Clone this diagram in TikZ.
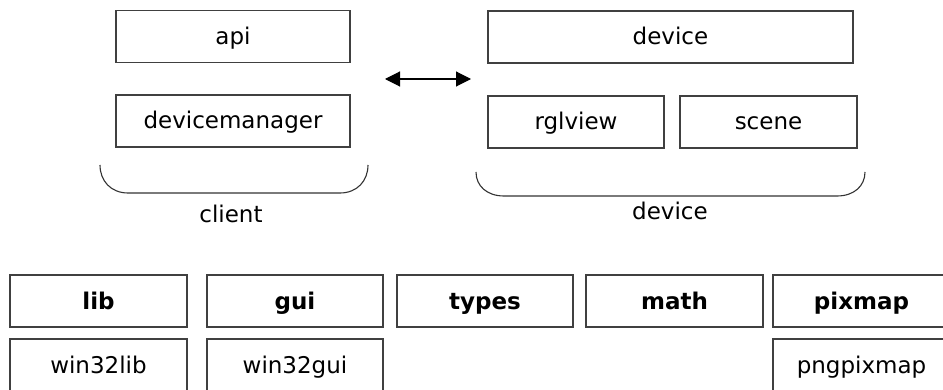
\documentclass[tikz,border=0pt]{standalone}
\usepackage{fontspec}
\setmainfont{DejaVu Sans}
\usetikzlibrary{arrows.meta}
\tikzset{
  box/.style={draw=black!75, line width=1.1pt, rectangle, minimum height=52pt,
    inner sep=0pt, text height=18pt, text depth=2pt,
    font=\fontsize{23}{27}\selectfont},
  bbox/.style={box, font=\fontsize{23}{27}\selectfont\bfseries},
  brace/.style={draw=black!80, line width=1.1pt},
  lbl/.style={anchor=base, inner sep=0pt, font=\fontsize{23}{27}\selectfont},
  link/.style={line width=1.1pt, {Triangle[length=15pt,width=15pt]}-{Triangle[length=15pt,width=15pt]}}
}
\begin{document}
\begin{tikzpicture}[x=1pt,y=-1pt]
\useasboundingbox (0,0) rectangle (943,390);
\clip (0,0) rectangle (943,390);
% top left group
\node[box, minimum width=234pt] (api) at (233,36.5) {api};
\node[box, minimum width=234pt] (devmgr) at (233,121) {devicemanager};
% top right group
\node[box, minimum width=365pt] (device) at (670.5,37) {device};
\node[box, minimum width=176pt] (rglview) at (576,122) {rglview};
\node[box, minimum width=177pt] (scene) at (768.5,122) {scene};
% arrow
\coordinate (al) at (385,79);
\coordinate (ar) at (471,79);
\draw[link] (al) -- (ar);
% braces
\draw[brace] (100,165) .. controls (100,181) and (111,193) .. (128,193) -- (340,193) .. controls (357,193) and (368,181) .. (368,165);
\node[lbl] (client) at (231,223) {client};
\draw[brace] (476,172) .. controls (476,186) and (487,196) .. (504,196) -- (837,196) .. controls (854,196) and (865,186) .. (865,172);
\node[lbl] (devlbl) at (670,220) {device};
% bottom rows
\node[bbox, minimum width=177pt] (lib) at (98.5,301) {lib};
\node[bbox, minimum width=176pt] (gui) at (295,301) {gui};
\node[bbox, minimum width=176pt] (types) at (485,301) {types};
\node[bbox, minimum width=177pt] (math) at (674.5,301) {math};
\node[bbox, minimum width=177pt] (pixmap) at (861.5,301) {pixmap};
\node[box, minimum width=177pt] (win32lib) at (98.5,365) {win32lib};
\node[box, minimum width=176pt] (win32gui) at (295,365) {win32gui};
\node[box, minimum width=177pt] (pngpixmap) at (861.5,365) {pngpixmap};
\end{tikzpicture}
\end{document}
